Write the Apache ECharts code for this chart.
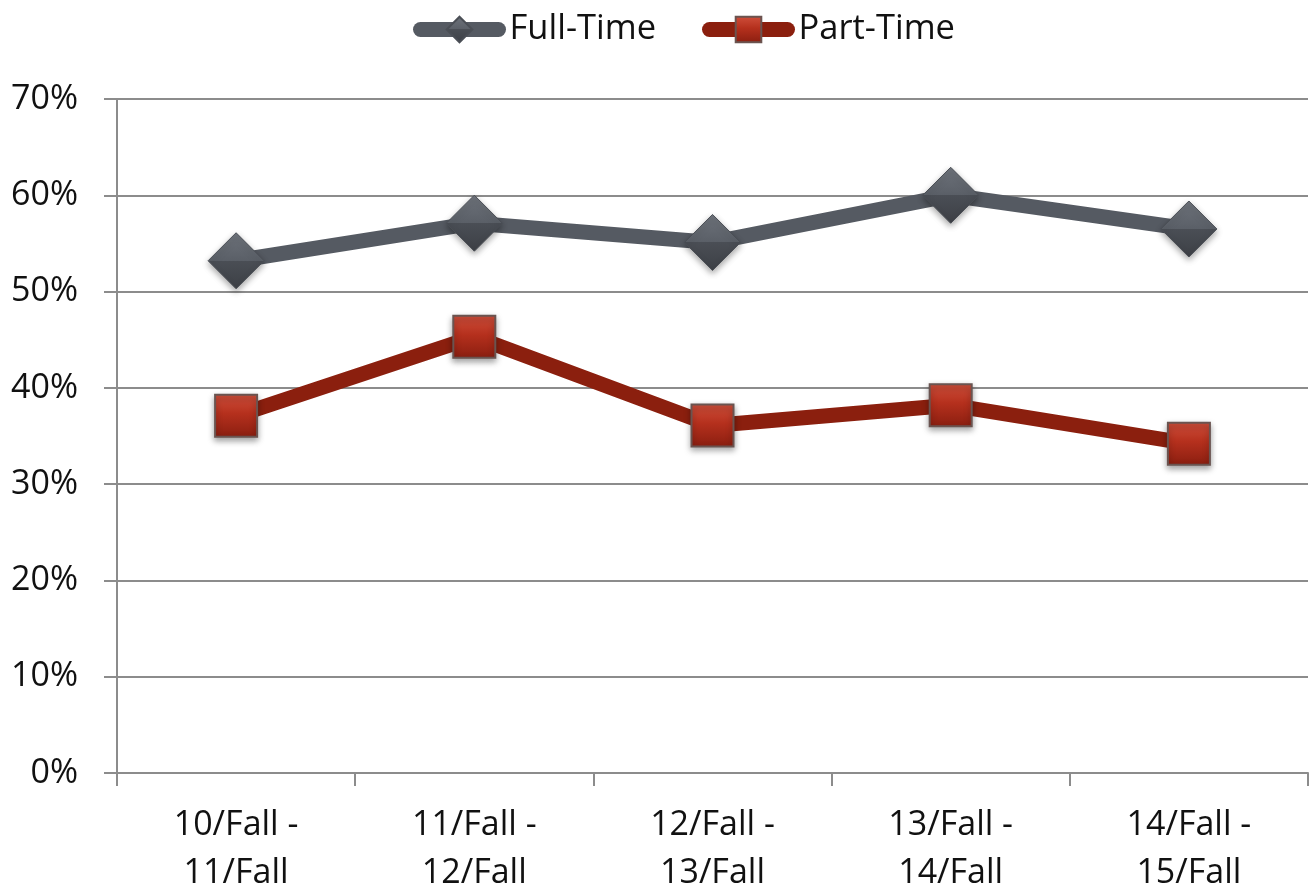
<!DOCTYPE html>
<html><head><meta charset="utf-8">
<script src="https://cdn.jsdelivr.net/npm/echarts@6/dist/echarts.min.js"></script>
<style>html,body{margin:0;padding:0;background:#fff}#c{width:1310px;height:893px}</style>
</head><body><div id="c"></div>
<script>
const categories = ['10/Fall -\n11/Fall','11/Fall -\n12/Fall','12/Fall -\n13/Fall','13/Fall -\n14/Fall','14/Fall -\n15/Fall'];
const fullTime = [53.2, 57.1, 55.1, 60.0, 56.5];
const partTime = [37.1, 45.3, 36.1, 38.2, 34.2];
const yTicks = [0,10,20,30,40,50,60,70];

const FONT = '"Open Sans", sans-serif';
const chart = echarts.init(document.getElementById('c'));
const diamondFill = new echarts.graphic.LinearGradient(0,0,0,1,[
  {offset:0,color:'#6e737b'},{offset:0.5,color:'#5a5f67'},{offset:0.5,color:'#4a4e55'},{offset:1,color:'#3d4046'}]);
const squareFill = new echarts.graphic.LinearGradient(0,0,0,1,[
  {offset:0,color:'#d0503c'},{offset:0.45,color:'#b5301d'},{offset:1,color:'#8a1e10'}]);
chart.setOption({
  animation:false,
  backgroundColor:'#fff',
  legend:{
    top:7, left:408, itemGap:46, itemWidth:78, itemHeight:32,
    textStyle:{fontFamily:FONT,fontSize:34.5,color:'#111',padding:[0,0,0,6]},
    lineStyle:{width:15,cap:'round'},
    data:['Full-Time','Part-Time']
  },
  grid:{left:117,right:2,top:99,bottom:120,containLabel:false,outerBoundsMode:'none'},
  xAxis:{
    type:'category', data:categories, boundaryGap:true,
    axisLine:{lineStyle:{color:'#8c8c8c',width:2}},
    axisTick:{show:true,length:13,inside:false,lineStyle:{color:'#8c8c8c',width:2}},
    axisLabel:{fontFamily:FONT,fontSize:34,color:'#111',margin:28,lineHeight:48,interval:0}
  },
  yAxis:{
    type:'value', min:0, max:70, interval:10,
    axisLine:{show:true,lineStyle:{color:'#8c8c8c',width:2}},
    axisTick:{show:true,length:13,lineStyle:{color:'#8c8c8c',width:2}},
    splitLine:{lineStyle:{color:'#8c8c8c',width:2}},
    axisLabel:{fontFamily:FONT,fontSize:34,color:'#111',margin:39,formatter:v=>v+'%'}
  },
  series:[
    {name:'Full-Time',type:'line',data:fullTime,symbol:'diamond',symbolSize:56,
     lineStyle:{color:'#555a62',width:15},
     itemStyle:{color:diamondFill,borderColor:'#4a4e55',borderWidth:1,shadowBlur:6,shadowColor:'rgba(0,0,0,0.35)',shadowOffsetY:3}},
    {name:'Part-Time',type:'line',data:partTime,symbol:'rect',symbolSize:42,
     lineStyle:{color:'#8b1f0e',width:15},
     itemStyle:{color:squareFill,borderColor:'#6a5450',borderWidth:2,shadowBlur:6,shadowColor:'rgba(0,0,0,0.35)',shadowOffsetY:3}}
  ]
});
</script></body></html>
